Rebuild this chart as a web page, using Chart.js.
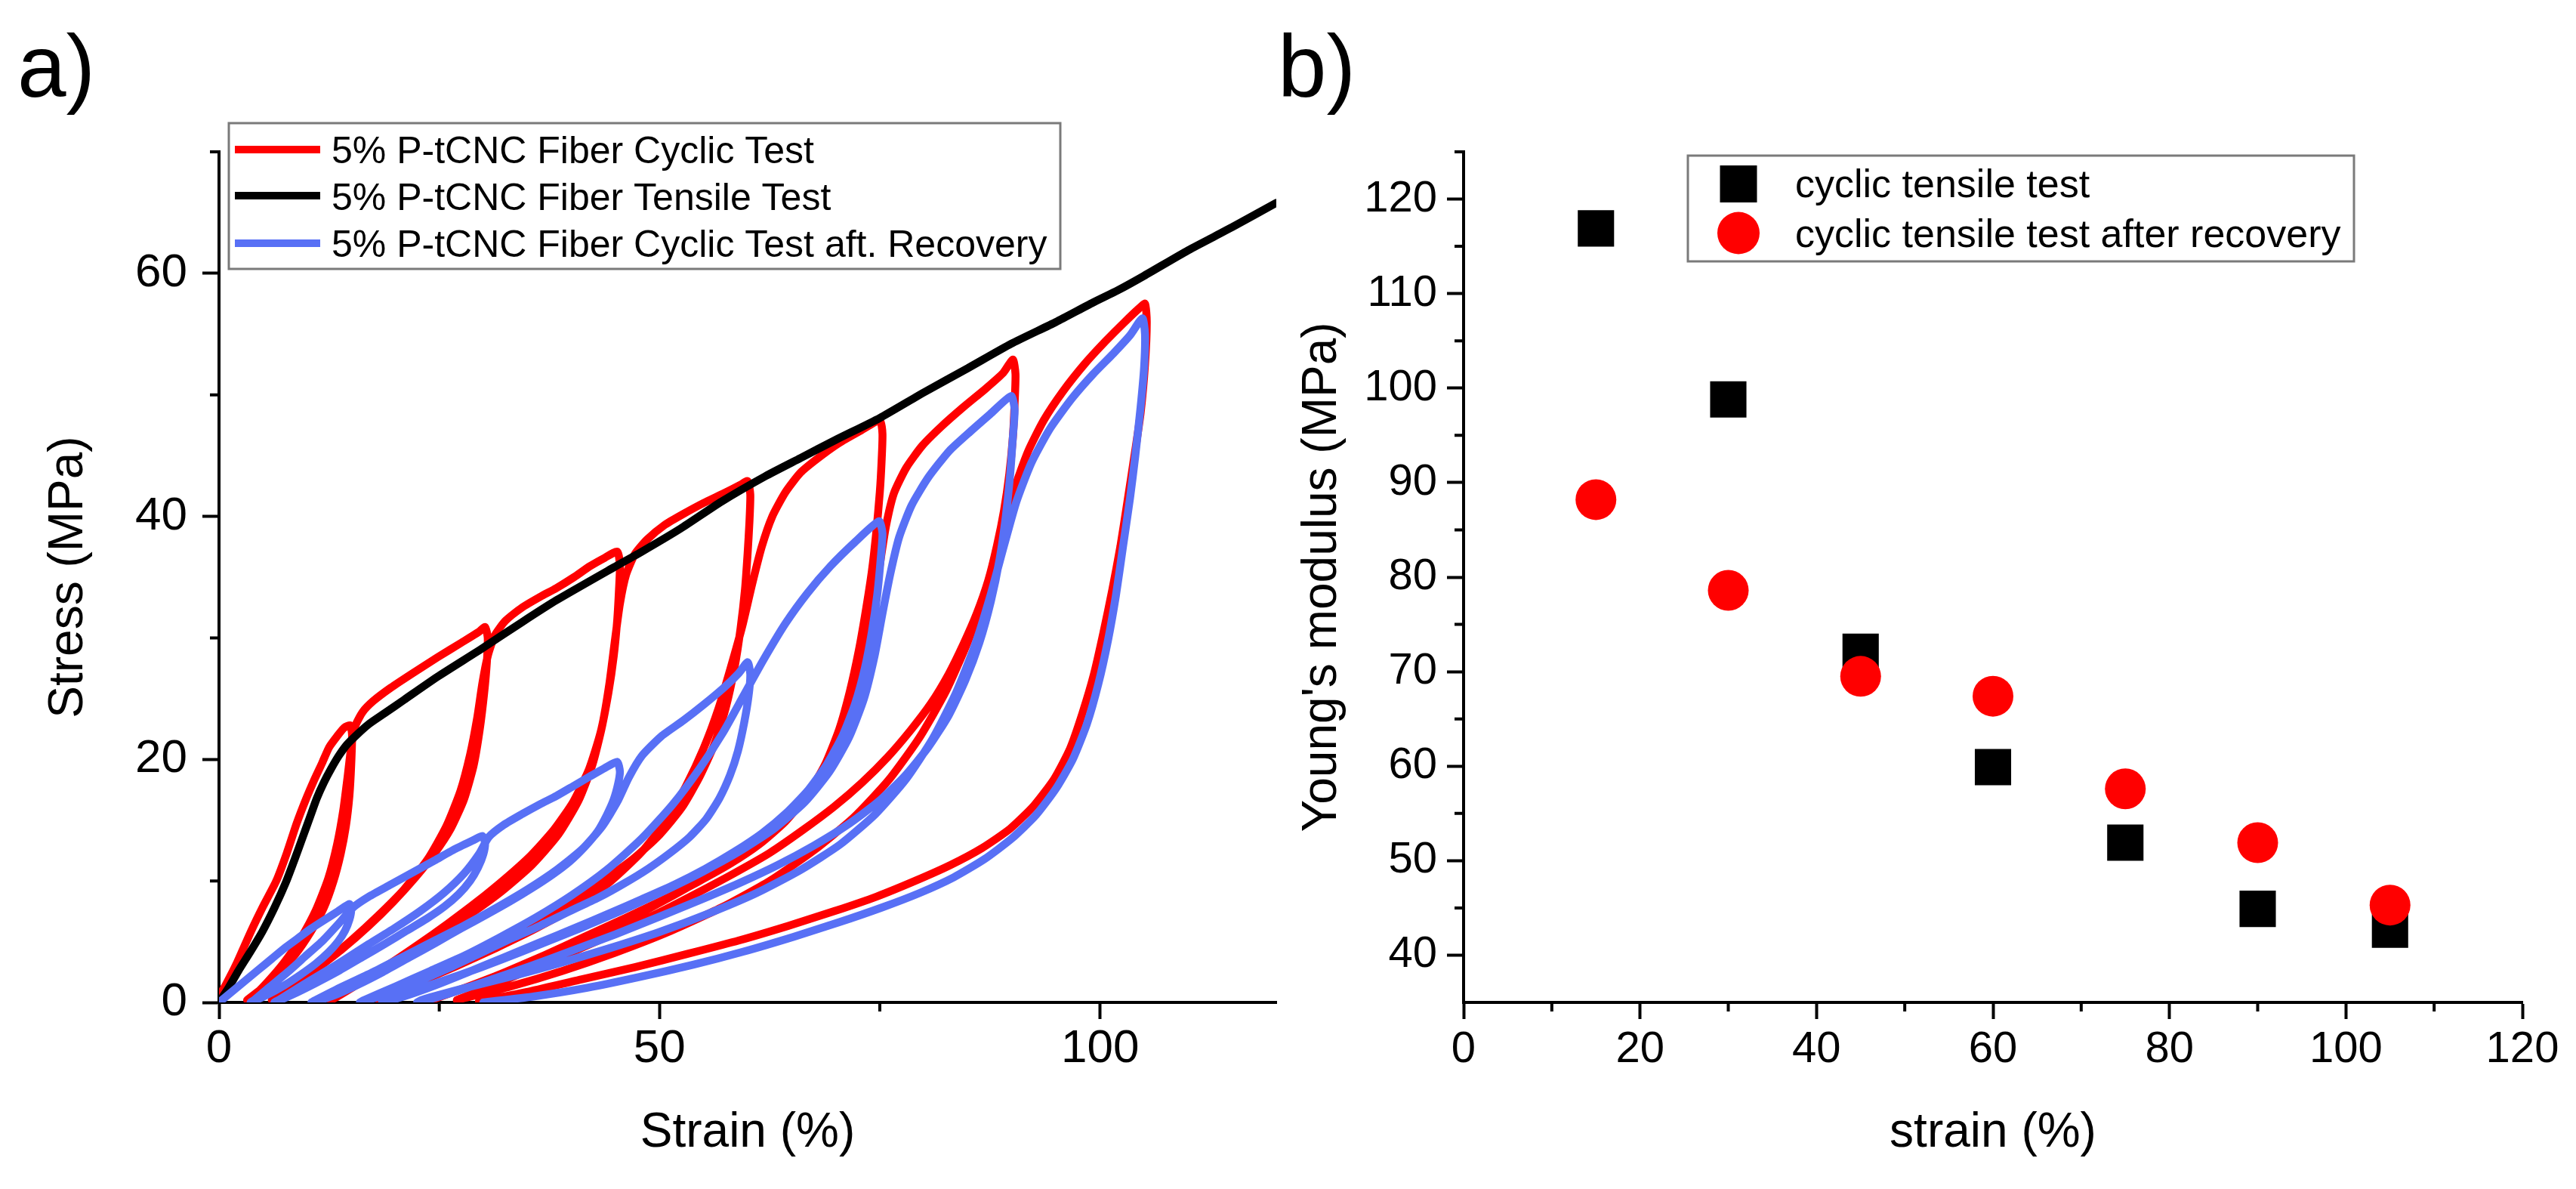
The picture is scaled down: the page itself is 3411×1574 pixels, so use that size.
<!DOCTYPE html>
<html>
<head>
<meta charset="utf-8">
<script src="https://cdn.jsdelivr.net/npm/chart.js@4.4.1/dist/chart.umd.min.js"></script>
<style>
  html, body { margin: 0; padding: 0; background: #fff; }
  #wrap { position: relative; width: 3411px; height: 1574px; overflow: hidden; background: #fff; }
  canvas { position: absolute; top: 0; }
  #chartA { left: 0; }
  #chartB { left: 1660px; }
</style>
</head>
<body>
<div id="wrap">
  <canvas id="chartA" width="1700" height="1574"></canvas>
  <canvas id="chartB" width="1751" height="1574"></canvas>
</div>
<script>
// ---------- panel a: stress-strain curves, [strain %, stress MPa] ----------
const tensileCurve = [
  [0,0],[1,1.1],[2.2,2.6],[3.5,4.1],[4.9,5.8],[6.3,7.8],[7.6,9.9],[8.6,11.8],[9.5,13.6],[10.3,15.2],
  [11.1,16.8],[11.9,18.1],[12.7,19.2],[13.6,20.3],[14.5,21.2],[15.6,22],[17,22.9],[18.8,23.8],[21,24.9],
  [24.8,26.8],[29.8,29.1],[34.4,31.3],[38.3,33.1],[44.8,35.8],[48,37.1],[52.4,39],[57,41.2],[62,43.3],
  [66,44.8],[70,46.3],[75,48.1],[80,50.2],[85,52.2],[89.9,54.2],[95,56],[99.2,57.6],[102,58.6],[105,59.8],
  [110,61.9],[115,63.8],[120,65.8]
];

const cyclicCurve = [
  // cycle 1 (15 %)
  [0,0.5],[0.8,1.5],[2,3.2],[3.6,5.8],[5,7.9],[6.5,10],[7.7,12.3],[8.8,14.7],[9.8,16.6],[10.8,18.3],
  [11.7,19.7],[12.5,21],[13.4,21.9],[14.2,22.6],[14.9,22.8],
  [15.1,22],[15,19.5],[14.8,17],[14.4,14.5],[13.8,12.2],[13,10],[11.9,7.8],[10.4,5.8],[8.6,3.9],[6.6,2.3],[4.8,1.1],[3.2,0.2],
  // cycle 2 (30 %)
  [3.6,0.3],[5.4,1.6],[7.4,3.3],[9.3,5.3],[11,7.6],[12.4,10.2],[13.4,13],[14.1,15.8],[14.6,18.6],[15,21],
  [15.5,22.8],[16.3,23.9],[17.5,24.8],[19.5,25.9],[22,27.1],[24.8,28.4],[27.5,29.6],[29.5,30.5],[30.2,30.9],
  [30.5,30],[30.4,28],[30.1,25.5],[29.6,22.5],[28.9,19.5],[27.8,16.7],[26.3,14.3],[24.5,12.3],[22.3,10.3],
  [19.8,8.3],[17,6.3],[14,4.4],[11,2.7],[8.3,1.2],[6,0.2],
  // cycle 3 (45 %)
  [6.6,0.3],[9,1.6],[12,3.3],[15,5.1],[18,7.1],[21,9.3],[23.7,11.8],[25.8,14.5],[27.4,17.4],[28.5,20.4],
  [29.3,23.4],[29.9,26.3],[30.5,28.5],[31.3,30.2],[32.5,31.4],[34.4,32.5],[36.5,33.4],[38.3,34.1],[40.3,35],
  [42.1,35.9],[43.8,36.6],[45.2,37.1],
  [45.5,36],[45.4,34],[45.2,31.5],[44.8,28.5],[44.2,25.5],[43.3,22.2],[42,19.2],[40.2,16.5],[38,14.2],
  [35.4,12.1],[32.5,10.2],[29.3,8.3],[26,6.5],[22.5,4.7],[19,3],[15.5,1.5],[12.5,0.3],
  // cycle 4 (60 %)
  [13,0.3],[16,1.6],[20,3.3],[24,5.1],[28,7],[32,9.1],[35.5,11.3],[38.5,13.8],[40.8,16.6],[42.4,19.6],
  [43.5,22.8],[44.3,26.2],[44.9,29.6],[45.5,32.8],[46.2,35.2],[47.2,36.9],[48.6,38.1],[50.6,39.3],[52.7,40.2],
  [55,41.1],[57.3,41.9],[59.2,42.6],[60,42.9],
  [60.3,41.8],[60.2,39.5],[60,37],[59.7,34],[59.2,30.8],[58.5,27.5],[57.5,24.2],[56.2,21.2],[54.5,18.5],
  [52.5,16],[50,13.8],[47,11.8],[43.5,10],[39.5,8.2],[35.5,6.5],[31,4.8],[26.5,3.1],[22,1.6],[18,0.3],
  // cycle 5 (75 %)
  [18.5,0.3],[22.5,1.6],[27,3],[31.5,4.5],[36,6.1],[40.5,7.9],[44.5,10],[48,12.4],[50.8,15],[53,17.8],
  [55,20.9],[56.7,24.2],[58.1,27.6],[59.4,31],[60.5,34.4],[61.6,37.5],[62.8,40],[64.3,42],[66,43.6],[68,44.8],
  [70.3,46],[72.7,47],[75,47.9],
  [75.3,46.8],[75.2,44.5],[75,42],[74.6,38.7],[74.1,35.5],[73.4,32.2],[72.6,28.9],[71.6,25.6],[70.4,22.5],
  [68.8,19.6],[66.8,17.1],[64.3,14.9],[61.3,13],[58,11.4],[54.3,9.9],[50.3,8.4],[46,6.9],[41.5,5.4],[37,3.9],
  [32.5,2.5],[28,1.2],[24,0.2],
  // cycle 6 (90 %)
  [24.5,0.3],[29,1.5],[34,2.9],[39,4.4],[44,6],[49,7.8],[54,9.8],[58.5,11.9],[62.5,14.1],[66,16.5],
  [68.8,19.2],[70.8,22.2],[72.3,25.5],[73.4,29],[74.3,32.5],[75,36],[75.7,39.2],[76.6,41.9],[78,44],[79.8,45.8],
  [82,47.4],[84.5,49],[87,50.5],[89,51.8],[90.1,52.9],
  [90.4,51.7],[90.3,49.3],[90.1,46.5],[89.7,43.5],[89.1,40.5],[88.3,37.6],[87.3,34.7],[86,32],[84.5,29.5],
  [82.8,27],[80.8,24.6],[78.5,22.4],[75.9,20.2],[73,18.1],[69.8,16.1],[66.3,14.2],[62.5,12.3],[58.4,10.6],
  [54,8.9],[49.4,7.2],[44.6,5.6],[39.6,4],[34.6,2.5],[29.8,1],[27,0.2],
  // cycle 7 (105 %)
  [27.5,0.3],[33,1.3],[39,2.6],[45,4.1],[51,5.8],[57,7.8],[62.5,10],[67.5,12.5],[72,15.2],[76,18.3],
  [79.5,21.8],[82.5,25.6],[85,29.7],[87.1,34],[88.8,38.4],[90.3,42.3],[91.8,45.3],[93.6,47.9],[95.8,50.3],
  [98.2,52.5],[100.6,54.4],[102.8,56],[104.4,57.1],[105.1,57.5],
  [105.3,56],[105.1,52.5],[104.6,48.5],[103.9,45],[103.1,41.2],[102.3,37.5],[101.4,34],[100.4,30.5],[99.3,27],
  [98,23.8],[96.6,20.9],[94.8,18.4],[92.5,16.2],[89.8,14.3],[86.6,12.7],[83,11.3],[79,10],[74.6,8.7],
  [69.8,7.5],[64.6,6.3],[59,5.1],[53.2,4],[47.2,2.9],[41.2,1.9],[35.2,0.9],[29.5,0.1]
];

const recoveryCurve = [
  // cycle 1
  [0,0],[1.5,0.9],[3,1.8],[4.5,2.7],[6,3.6],[7.5,4.5],[9,5.3],[10.5,6.1],[12,6.8],[13.5,7.5],[14.8,8.1],
  [15,7.6],[14.8,6.8],[14.3,5.9],[13.5,5],[12.4,4.1],[11,3.2],[9.3,2.3],[7.4,1.4],[5.4,0.6],[3.6,0],
  // cycle 2
  [4,0.2],[5.8,1.3],[7.8,2.5],[9.8,3.8],[11.8,5.1],[13.6,6.5],[15.2,7.8],[17,8.7],[19.5,9.7],[22,10.7],
  [24.5,11.7],[27,12.7],[29,13.4],[29.9,13.7],
  [30.2,13.1],[30,12.2],[29.4,11.1],[28.5,10],[27.2,8.9],[25.6,7.9],[23.6,6.9],[21.3,5.9],[18.8,4.8],
  [16.2,3.7],[13.6,2.6],[11,1.6],[8.5,0.7],[6.3,0],
  // cycle 3
  [6.8,0.2],[9,1.2],[11.5,2.3],[14.2,3.5],[17,4.8],[19.9,6.1],[22.8,7.5],[25.5,9],[27.8,10.6],[29.5,12.2],
  [30.6,13.6],[32.3,14.6],[34.4,15.5],[36.4,16.3],[38.3,17],[40.2,17.8],[42.1,18.6],[43.8,19.3],[45.2,19.8],
  [45.5,19],[45.3,18],[44.8,16.7],[44,15.4],[43,14.1],[41.5,12.8],[39.8,11.6],[37.8,10.5],[35.5,9.4],[33,8.3],
  [30.3,7.2],[27.5,6.1],[24.6,4.9],[21.6,3.7],[18.6,2.5],[15.6,1.4],[12.8,0.5],[10.5,0],
  // cycle 4
  [11,0.2],[14,1.3],[17.5,2.5],[21,3.8],[24.5,5.1],[28,6.4],[31.5,7.8],[35,9.3],[38.3,10.9],[41.2,12.6],
  [43.5,14.5],[45.2,16.5],[46.5,18.5],[48,20.3],[50.2,21.9],[52.7,23.2],[55,24.5],[57.3,25.9],[59,27.1],[60,28],
  [60.3,27],[60.1,25.2],[59.6,23],[58.9,20.7],[58,18.7],[56.8,16.8],[55.3,15.1],[53.4,13.6],[51.2,12.3],
  [48.7,11],[46,9.8],[43,8.6],[39.8,7.5],[36.4,6.3],[33,5.2],[29.5,4],[26,2.8],[22.5,1.7],[19,0.7],[16,0],
  // cycle 5
  [16.5,0.2],[20,1.3],[24,2.6],[28,3.9],[32,5.4],[36,7],[40,8.8],[44,10.9],[48,13.5],[51.5,16.3],
  [54.5,19.2],[57.2,22.2],[59.5,25.2],[61.8,28.2],[64.3,31.2],[66.8,33.7],[69.4,35.9],[72.2,37.9],[74.9,39.6],
  [75.3,38.6],[75.1,36.5],[74.7,33.5],[74.1,30.5],[73.3,27.5],[72.2,24.6],[70.8,22],[69,19.6],[66.9,17.5],
  [64.4,15.6],[61.6,13.9],[58.5,12.4],[55.2,11],[51.7,9.7],[48,8.5],[44.2,7.3],[40.3,6.1],[36.3,4.9],
  [32.3,3.7],[28.3,2.5],[24.5,1.4],[21,0.5],[18.5,0],
  // cycle 6
  [19,0.2],[23,1.2],[27.5,2.3],[32,3.5],[36.5,4.8],[41,6.1],[45.5,7.5],[50,9],[54.5,10.6],[59,12.4],
  [63,14.3],[66.5,16.5],[69.3,19],[71.5,21.8],[73.2,25],[74.4,28.5],[75.3,32],[76.2,35.3],[77.2,38.3],
  [78.6,40.9],[80.5,43.2],[82.9,45.4],[85.3,47],[87.5,48.4],[89.9,49.9],
  [90.3,48.8],[90.1,46.5],[89.8,43.5],[89.3,40],[88.6,36.5],[87.6,33],[86.3,29.6],[84.7,26.5],[82.8,23.6],
  [80.5,21],[77.8,18.6],[74.8,16.5],[71.3,14.6],[67.5,12.9],[63.4,11.3],[59,9.8],[54.5,8.4],[49.8,7],
  [45,5.6],[40.2,4.3],[35.4,3],[30.6,1.8],[26,0.7],[22.5,0],
  // cycle 7
  [23,0.2],[28,1.2],[33.5,2.2],[39,3.3],[44.5,4.5],[50,5.8],[55.5,7.3],[61,9],[66,10.9],[70.5,13],
  [74.5,15.5],[78,18.4],[81,21.7],[83.6,25.4],[85.8,29.4],[87.6,33.6],[89.1,37.6],[90.5,41.2],[92.2,44.4],
  [94.3,47.2],[96.8,49.7],[99.2,51.7],[101.5,53.4],[103.4,54.9],[104.8,56.3],
  [105.1,55],[105,52.3],[104.6,49],[104,45],[103.4,41.5],[102.6,37.5],[101.8,33.5],[100.9,29.8],[99.8,26.2],
  [98.5,22.9],[96.9,20],[95,17.6],[92.7,15.4],[90,13.5],[86.9,11.8],[83.4,10.3],[79.5,9],[75.2,7.8],
  [70.4,6.6],[65.2,5.4],[59.6,4.2],[53.8,3.1],[47.8,2.1],[41.8,1.2],[35.8,0.5],[30,0]
];

const seriesNamesA = [
  '5% P-tCNC Fiber Cyclic Test',
  '5% P-tCNC Fiber Tensile Test',
  '5% P-tCNC Fiber Cyclic Test aft. Recovery'
];
const strainTicksA = [0, 50, 100];
const strainMinorA = [25, 75];
const stressTicksA = [0, 20, 40, 60];
const stressMinorA = [10, 30, 50, 70];

// ---------- panel b: Young's modulus vs strain ----------
const strainLevels = [15, 30, 45, 60, 75, 90, 105];
const modulusCyclic = [116.9, 98.8, 72.1, 59.9, 51.9, 44.9, 42.7];
const modulusRecovered = [88.2, 78.6, 69.5, 67.4, 57.6, 51.9, 45.3];
const seriesNamesB = ['cyclic tensile test', 'cyclic tensile test after recovery'];
const strainTicksB = [0, 20, 40, 60, 80, 100, 120];
const strainMinorB = [10, 30, 50, 70, 90, 110];
const modulusTicksB = [40, 50, 60, 70, 80, 90, 100, 110, 120];
const modulusMinorB = [45, 55, 65, 75, 85, 95, 105, 115, 125];

const FONT = "'Liberation Sans', Arial, sans-serif";
const RED = '#ff0000';
const BLUE = '#5870f5';
Chart.defaults.color = '#000';

const toXY = pts => pts.map(([x, y]) => ({ x, y }));

// minor ticks, panel letter and the boxed legend
const panelDecor = {
  id: 'panelDecor',
  afterDraw(chart, args, o) {
    const { ctx, chartArea: area } = chart;
    const sx = chart.scales.x, sy = chart.scales.y;
    ctx.save();
    ctx.strokeStyle = '#000';
    ctx.lineWidth = 4;
    ctx.beginPath();
    o.minorX.forEach(v => {
      const px = sx.getPixelForValue(v);
      ctx.moveTo(px, area.bottom);
      ctx.lineTo(px, area.bottom + o.minorLen);
    });
    o.minorY.forEach(v => {
      const py = sy.getPixelForValue(v);
      ctx.moveTo(area.left, py);
      ctx.lineTo(area.left - o.minorLen, py);
    });
    ctx.stroke();

    ctx.fillStyle = '#000';
    ctx.textBaseline = 'alphabetic';
    ctx.font = `116px ${FONT}`;
    ctx.fillText(o.letter.text, o.letter.x, o.letter.y);

    const L = o.legend;
    ctx.fillStyle = '#fff';
    ctx.fillRect(L.x, L.y, L.w, L.h);
    ctx.strokeStyle = '#7a7a7a';
    ctx.lineWidth = 3;
    ctx.strokeRect(L.x, L.y, L.w, L.h);
    ctx.font = `${L.fontSize}px ${FONT}`;
    L.rows.forEach(r => {
      const ds = chart.data.datasets[r.ds];
      if (L.kind === 'line') {
        ctx.strokeStyle = ds.borderColor;
        ctx.lineWidth = 10;
        ctx.beginPath();
        ctx.moveTo(L.sx1, r.sy);
        ctx.lineTo(L.sx2, r.sy);
        ctx.stroke();
      } else {
        ctx.fillStyle = ds.backgroundColor;
        if (ds.pointStyle === 'rect') {
          ctx.fillRect(L.mx - 24.5, r.sy - 24.5, 49, 49);
        } else {
          ctx.beginPath();
          ctx.arc(L.mx, r.sy, 28, 0, Math.PI * 2);
          ctx.fill();
        }
      }
      ctx.fillStyle = '#000';
      ctx.fillText(ds.label, L.tx, r.ty);
    });
    ctx.restore();
  }
};

function axis(opts) {
  return {
    type: 'linear',
    min: opts.min,
    max: opts.max,
    afterBuildTicks: s => { s.ticks = opts.ticks.map(v => ({ value: v })); },
    afterFit: s => { if (opts.width) s.width = opts.width; if (opts.height) s.height = opts.height; },
    ticks: { font: { family: FONT, size: opts.tickSize }, color: '#000', padding: opts.tickPad, maxRotation: 0 },
    grid: { display: true, drawOnChartArea: false, drawTicks: true, tickLength: 22, tickWidth: 4, tickColor: '#000' },
    border: { display: true, color: '#000', width: 4 },
    title: { display: true, text: opts.title, color: '#000', font: { family: FONT, size: 64 }, padding: opts.titlePad }
  };
}

new Chart(document.getElementById('chartA'), {
  type: 'line',
  data: {
    datasets: [
      { label: seriesNamesA[2], data: toXY(recoveryCurve), borderColor: BLUE },
      { label: seriesNamesA[1], data: toXY(tensileCurve), borderColor: '#000' },
      { label: seriesNamesA[0], data: toXY(cyclicCurve), borderColor: RED }
    ].map(d => Object.assign(d, { borderWidth: 10.5, pointRadius: 0, tension: 0.2, fill: false,
      borderJoinStyle: 'round', borderCapStyle: 'round' }))
  },
  options: {
    responsive: false,
    animation: false,
    devicePixelRatio: 1,
    layout: { padding: { top: 201, right: 10, bottom: 0, left: 0 } },
    scales: {
      x: axis({ min: 0, max: 120, ticks: strainTicksA, height: 247, tickSize: 62, tickPad: 3,
        title: 'Strain (%)', titlePad: { top: 0, bottom: 35 } }),
      y: axis({ min: 0, max: 70, ticks: stressTicksA, width: 290, tickSize: 62, tickPad: 20,
        title: 'Stress (MPa)', titlePad: { top: 53, bottom: 0 } })
    },
    plugins: {
      legend: { display: false },
      tooltip: { enabled: false },
      panelDecor: {
        minorX: strainMinorA, minorY: stressMinorA, minorLen: 12,
        letter: { text: 'a)', x: 23, y: 128 },
        legend: {
          kind: 'line', x: 303, y: 163, w: 1101, h: 193, fontSize: 50,
          sx1: 311, sx2: 424, tx: 439,
          rows: [ { ds: 2, sy: 198, ty: 216 }, { ds: 1, sy: 259, ty: 278 }, { ds: 0, sy: 322, ty: 340 } ]
        }
      }
    }
  },
  plugins: [panelDecor]
});

new Chart(document.getElementById('chartB'), {
  type: 'scatter',
  data: {
    datasets: [
      { label: seriesNamesB[1], data: strainLevels.map((x, i) => ({ x, y: modulusRecovered[i] })),
        pointStyle: 'circle', pointRadius: 27, backgroundColor: RED, borderWidth: 0 },
      { label: seriesNamesB[0], data: strainLevels.map((x, i) => ({ x, y: modulusCyclic[i] })),
        pointStyle: 'rect', pointRadius: 34, backgroundColor: '#000', borderWidth: 0 }
    ]
  },
  options: {
    responsive: false,
    animation: false,
    devicePixelRatio: 1,
    layout: { padding: { top: 201, right: 71, bottom: 0, left: 0 } },
    scales: {
      x: axis({ min: 0, max: 120, ticks: strainTicksB, height: 247, tickSize: 58, tickPad: 6,
        title: 'strain (%)', titlePad: { top: 0, bottom: 35 } }),
      y: axis({ min: 35, max: 125, ticks: modulusTicksB, width: 278, tickSize: 58, tickPad: 13,
        title: "Young's modulus (MPa)", titlePad: { top: 53, bottom: 0 } })
    },
    plugins: {
      legend: { display: false },
      tooltip: { enabled: false },
      panelDecor: {
        minorX: strainMinorB, minorY: modulusMinorB, minorLen: 12,
        letter: { text: 'b)', x: 32, y: 128 },
        legend: {
          kind: 'marker', x: 575, y: 206, w: 882, h: 140, fontSize: 52,
          mx: 642, tx: 717,
          rows: [ { ds: 1, sy: 243.5, ty: 261 }, { ds: 0, sy: 308.5, ty: 327 } ]
        }
      }
    }
  },
  plugins: [panelDecor]
});
</script>
</body>
</html>
